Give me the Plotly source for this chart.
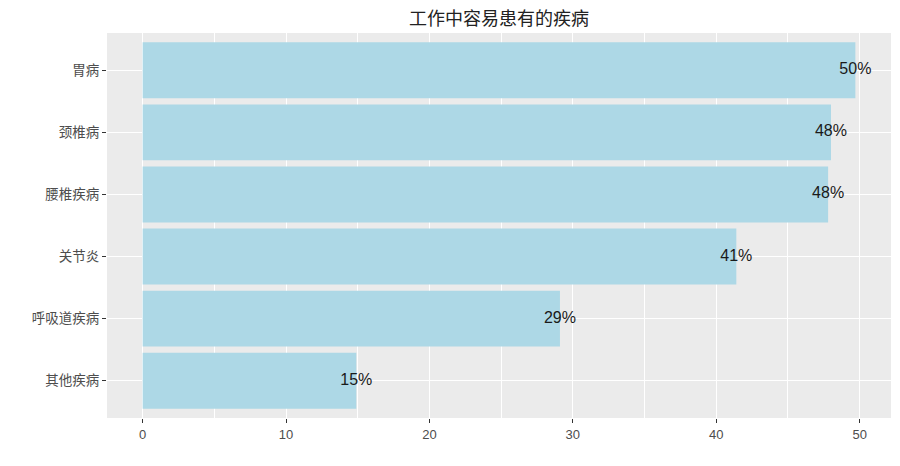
import plotly.graph_objs as go

diseases = ["胃病", "颈椎病", "腰椎疾病", "关节炎", "呼吸道疾病", "其他疾病"]
rates = [49.7, 48.0, 47.8, 41.4, 29.1, 14.9]
labels = ["%d%%" % round(v) for v in rates]

cjk = "Noto Sans CJK SC"

bars = go.Bar(x=rates, y=diseases, orientation="h", width=0.9,
              marker=dict(color="#ADD8E6", line=dict(width=0)),
              hoverinfo="skip")
txt = go.Scatter(x=rates, y=diseases, mode="text", text=labels,
                 textposition="middle center",
                 textfont=dict(family="Liberation Sans, Arial", size=16, color="#1a1a1a"),
                 hoverinfo="skip")

xmax = max(rates) * 1.05
xmin = -max(rates) * 0.05

# page body has an 8px margin, so the figure is a bit smaller than the window
layout = go.Layout(
    template="none",
    width=892, height=458,
    margin=dict(l=99, r=9, t=25, b=48, autoexpand=False),
    paper_bgcolor="white", plot_bgcolor="#EBEBEB",
    showlegend=False,
    title=dict(text="工作中容易患有的疾病", x=(99 + 883) / 2 / 892, xanchor="center",
               y=1, yanchor="top", pad=dict(t=4),
               font=dict(family=cjk, size=18, color="#222222")),
    xaxis=dict(range=[xmin, xmax], tickvals=[0, 10, 20, 30, 40, 50],
               automargin=False,
               showgrid=True, gridcolor="white", gridwidth=1.4,
               minor=dict(dtick=5, tick0=0, showgrid=True, gridcolor="white", gridwidth=0.6),
               zeroline=False, showline=False,
               ticks="outside", ticklen=4, tickwidth=1.2, tickcolor="#333333",
               tickfont=dict(family="Liberation Sans, Arial", size=13, color="#4D4D4D")),
    yaxis=dict(categoryorder="array", categoryarray=diseases,
               range=[len(diseases) - 0.4, -0.6],
               automargin=False,
               showgrid=True, gridcolor="white", gridwidth=1.4,
               zeroline=False, showline=False,
               ticks="outside", ticklen=4, tickwidth=1.2, tickcolor="#333333",
               tickfont=dict(family=cjk, size=13.5, color="#4D4D4D")),
)

fig = go.Figure(data=[bars, txt], layout=layout)
fig.write_html("out.html")
